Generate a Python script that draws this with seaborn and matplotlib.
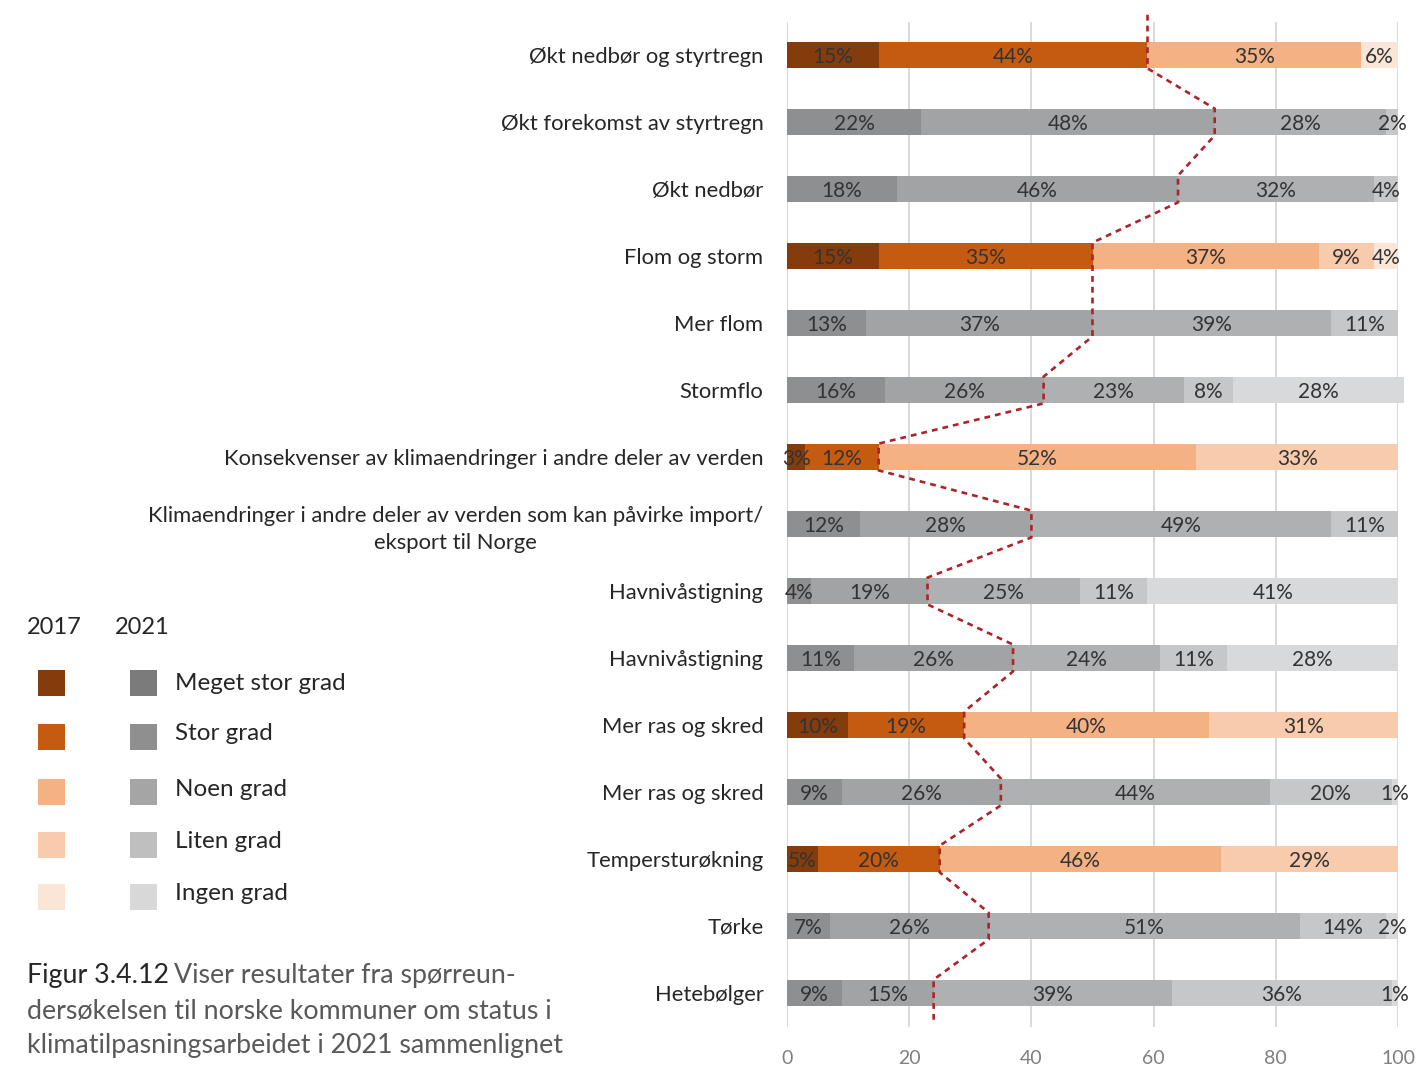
import numpy as np
import pandas as pd
import matplotlib
matplotlib.use("Agg")
import matplotlib.pyplot as plt
import seaborn as sns
from matplotlib.patches import Rectangle

# ---------------- data ----------------
categories = [
    "Økt nedbør og styrtregn",
    "Økt forekomst av styrtregn",
    "Økt nedbør",
    "Flom og storm",
    "Mer flom",
    "Stormflo",
    "Konsekvenser av klimaendringer i andre deler av verden",
    "Klimaendringer i andre deler av verden som kan påvirke import/\neksport til Norge",
    "Havnivåstigning",
    "Havnivåstigning",
    "Mer ras og skred",
    "Mer ras og skred",
    "Tempersturøkning",
    "Tørke",
    "Hetebølger",
]
colour_group = [2017, 2021, 2021, 2017, 2021, 2021, 2017, 2021, 2021, 2021, 2017, 2021, 2017, 2021, 2021]

meget_stor = [15, 22, 18, 15, 13, 16, 3, 12, 4, 11, 10, 9, 5, 7, 9]
stor       = [44, 48, 46, 35, 37, 26, 12, 28, 19, 26, 19, 26, 20, 26, 15]
noen       = [35, 28, 32, 37, 39, 23, 52, 49, 25, 24, 40, 44, 46, 51, 39]
liten      = [0, 2, 4, 9, 11, 8, 33, 11, 11, 11, 31, 20, 29, 14, 36]
ingen      = [6, 0, 0, 4, 0, 28, 0, 0, 41, 28, 0, 1, 0, 2, 1]

levels = ["Meget stor grad", "Stor grad", "Noen grad", "Liten grad", "Ingen grad"]
x_ticks = [0, 20, 40, 60, 80, 100]

orange = ["#843C0C", "#C55A11", "#F4B183", "#F8CBAD", "#FBE5D6"]
gray_bar = ["#8E8F91", "#A2A3A5", "#AFB0B2", "#C6C7C9", "#D8D9DB"]
gray_legend = ["#7B7B7B", "#8F8F8F", "#A5A5A5", "#BFBFBF", "#D8D8D8"]

# ---------------- style ----------------
sns.set_theme(style="white")
plt.rcParams["font.family"] = ["Lato", "DejaVu Sans"]

W, H = 1421, 1065
fig = plt.figure(figsize=(W / 100, H / 100), dpi=100)
fig.patch.set_facecolor("white")

ax_left, ax_right, ax_top, ax_bottom = 787, 1398, 21.5, 1026.5
ax = fig.add_axes([ax_left / W, 1 - ax_bottom / H, (ax_right - ax_left) / W, (ax_bottom - ax_top) / H])

rows = [f"r{i}" for i in range(len(categories))]
vals = np.array([meget_stor, stor, noen, liten, ingen])
cum = vals.cumsum(axis=0)

for k in range(len(levels) - 1, -1, -1):
    cols = [(orange if g == 2017 else gray_bar)[k] for g in colour_group]
    df = pd.DataFrame({"row": rows, "end": cum[k]})
    sns.barplot(data=df, x="end", y="row", hue="row", hue_order=rows, order=rows,
                palette=cols, legend=False, orient="y", width=0.4, saturation=1,
                errorbar=None, ax=ax, linewidth=0)

for p in ax.patches:
    p.set_clip_on(False)

# value labels
for i in range(len(rows)):
    for k in range(len(levels)):
        v = vals[k, i]
        if v > 0:
            ax.text(cum[k, i] - v / 2, i + 0.03, f"{v}%", ha="center", va="center",
                    fontsize=15, color="#333333")

# dashed line through the boundary of "Stor grad"
c2 = cum[1]
lx, ly = [c2[0]], [-0.6]
for i in range(len(rows)):
    lx += [c2[i], c2[i]]
    ly += [i - 0.2, i + 0.2]
lx.append(c2[-1]); ly.append(14.45)
ax.plot(lx, ly, color="#AC2328", lw=1.9, linestyle=(0, (2.2, 1.9)), clip_on=False, zorder=5)

ax.set_xlim(0, 100)
ax.set_ylim(len(rows) - 0.5, -0.5)
ax.set_xticks(x_ticks)
ax.set_xticklabels([str(t) for t in x_ticks], fontsize=14, color="#7F7F7F")
ax.set_yticks(range(len(rows)))
ax.set_yticklabels(categories, fontsize=15.8, color="#262626")
for lab in ax.get_yticklabels():
    lab.set_multialignment("center")
    lab.set_linespacing(1.45)
ax.tick_params(axis="y", length=0, pad=17)
ax.tick_params(axis="x", length=0, pad=17)
ax.set_xlabel("")
ax.set_ylabel("")
ax.grid(axis="x", color="#D9D9D9", lw=1.4)
ax.grid(axis="y", visible=False)
ax.set_axisbelow(True)
for s in ax.spines.values():
    s.set_visible(False)

# ---------------- legend ----------------
def fx(x): return x / W
def fy(y): return 1 - y / H

fig.text(fx(27), fy(628), "2017", fontsize=17, color="#262626", va="center", ha="left")
fig.text(fx(115), fy(628), "2021", fontsize=17, color="#262626", va="center", ha="left")
sq_y = [683, 737, 792, 845, 897]
lab_y = [683, 734, 790, 842, 894]
for k, lev in enumerate(levels):
    for x0, cl in ((38, orange[k]), (130, gray_legend[k])):
        fig.add_artist(Rectangle((fx(x0), fy(sq_y[k] + 13)), 27 / W, 26 / H,
                                 transform=fig.transFigure, facecolor=cl, edgecolor="none"))
    fig.text(fx(175), fy(lab_y[k]), lev, fontsize=17.5, color="#262626", va="center", ha="left")

# ---------------- caption ----------------
fig.canvas.draw()
r = fig.canvas.get_renderer()
cap_fs = 19.3
t1 = fig.text(fx(27), fy(975), "Figur 3.4.12", fontsize=cap_fs, color="#262626", va="center", ha="left")
bb = t1.get_window_extent(renderer=r)
fig.text(bb.x1 / W + 5 / W, fy(975), "Viser resultater fra spørreun-", fontsize=cap_fs,
         color="#595959", va="center", ha="left")
fig.text(fx(27), fy(1011), "dersøkelsen til norske kommuner om status i", fontsize=cap_fs,
         color="#595959", va="center", ha="left")
fig.text(fx(27), fy(1046), "klimatilpasningsarbeidet i 2021 sammenlignet", fontsize=cap_fs,
         color="#595959", va="center", ha="left")

fig.savefig("out.png", dpi=100, facecolor="white")
